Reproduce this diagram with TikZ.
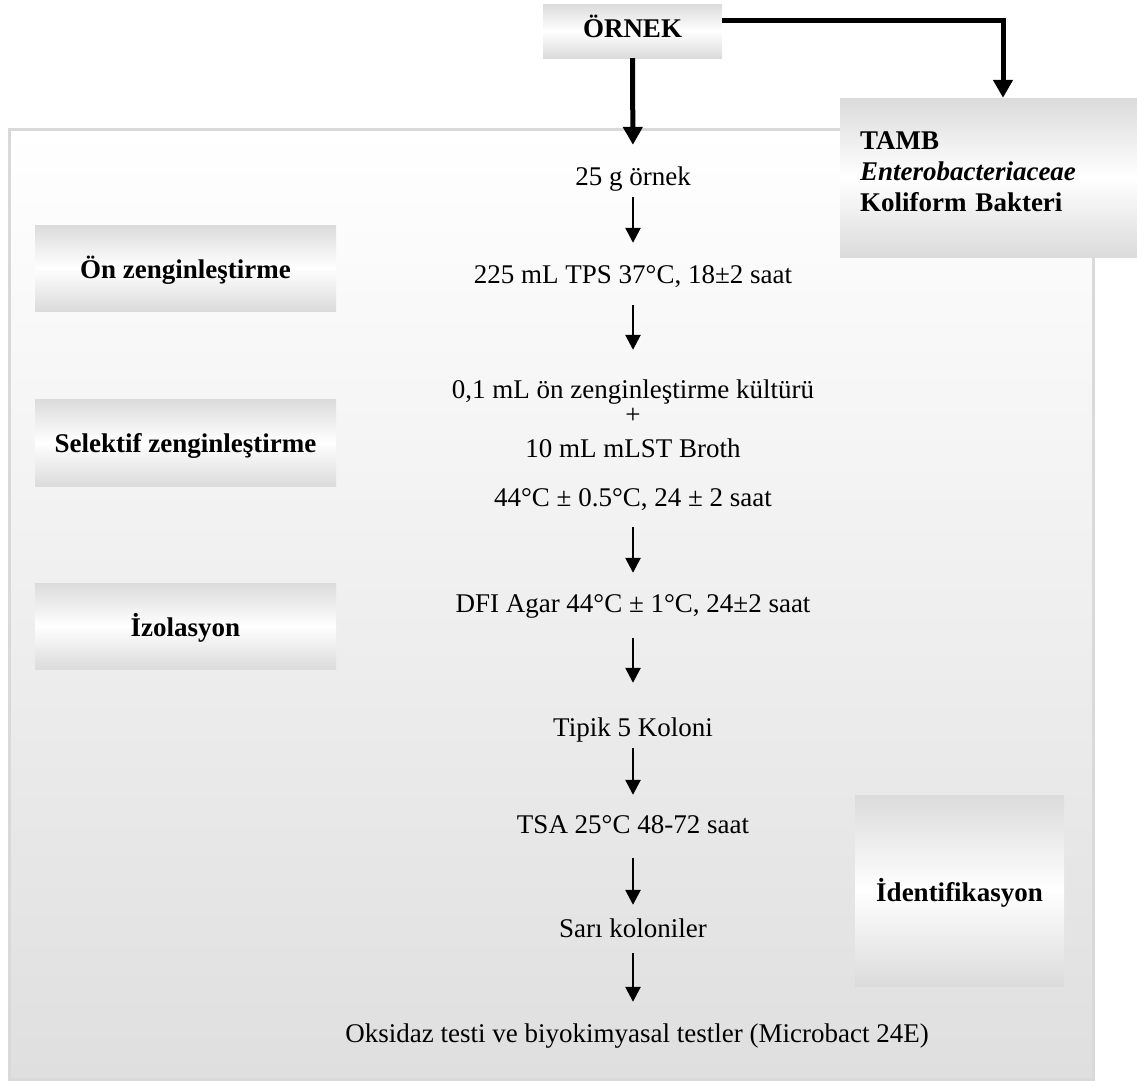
\documentclass[tikz,border=0pt]{standalone}
\usepackage{fontspec}
\setmainfont{Liberation Serif}
\usetikzlibrary{arrows.meta,calc}
\definecolor{boxgray}{HTML}{DBDBDB}
\definecolor{panelgray}{HTML}{DFDFDF}
\definecolor{panelline}{HTML}{D9D9D9}
\begin{document}
\begin{tikzpicture}[x=1pt,y=-1pt,
  txt/.style={font=\fontsize{27}{31}\selectfont, inner sep=0pt, text height=19pt, text depth=6pt, anchor=base},
  labelbox/.style={font=\fontsize{27}{31}\selectfont\bfseries, inner sep=0pt, top color=boxgray, bottom color=boxgray, middle color=white, draw=none},
  thinarrow/.style={line width=2.6pt, -{Triangle[length=15pt,width=15pt]}},
  thickarrow/.style={line width=5pt, -{Triangle[length=18pt,width=19pt]}},
]
\useasboundingbox (0,0) rectangle (1137,1080);
% background panel
\path[draw=panelline, line width=3pt, top color=white, bottom color=panelgray] (9,129) rectangle (1093,1079);

% boxes
\node[labelbox, minimum width=179pt, minimum height=54pt, text height=14pt, text depth=2pt] (ornek) at (632.5,31) {ÖRNEK};
\node[labelbox, minimum width=297pt, minimum height=159pt, text width=257pt, align=left, inner xsep=20pt] (tamb) at (988.5,177.5) {TAMB\\\textit{Enterobacteriaceae}\\Koliform Bakteri\rule[-11pt]{0pt}{11pt}};
\node[labelbox, minimum width=301pt, minimum height=86pt, text height=20pt, text depth=0pt] (onz) at (185.5,268) {Ön zenginleştirme};
\node[labelbox, minimum width=301pt, minimum height=87pt, text height=20pt, text depth=0pt] (sel) at (185.5,442.5) {Selektif zenginleştirme};
\node[labelbox, minimum width=301pt, minimum height=86pt, text height=20pt, text depth=0pt] (izo) at (185.5,626) {İzolasyon};
\node[labelbox, minimum width=209pt, minimum height=191pt, text height=22pt, text depth=0pt] (idf) at (959.5,890.5) {İdentifikasyon};

% centre column
\node[txt] (n1) at (633,185) {25 g örnek};
\node[txt] (n2) at (633,283) {225 mL TPS 37°C, 18±2 saat};
\node[txt] (n3) at (633,398) {0,1 mL ön zenginleştirme kültürü};
\node[txt] (n3p) at (633,423) {+};
\node[txt] (n4) at (633,457) {10 mL mLST Broth};
\node[txt] (n5) at (633,506) {44°C ± 0.5°C, 24 ± 2 saat};
\node[txt] (n6) at (633,612) {DFI Agar 44°C ± 1°C, 24±2 saat};
\node[txt] (n7) at (633,736) {Tipik 5 Koloni};
\node[txt] (n8) at (633,833) {TSA 25°C 48-72 saat};
\node[txt] (n9) at (633,937) {Sarı koloniler};
\node[txt] (n10) at (637,1042) {Oksidaz testi ve biyokimyasal testler (Microbact 24E)};

% connectors
\draw[thickarrow, shorten >=21pt] (ornek.south) -- (n1.north);
\draw[thickarrow] ([yshift=11pt]ornek.east) -| ([xshift=14.5pt]tamb.north);
\draw[thinarrow, shorten <=6pt, shorten >=21pt] (n1.south) -- (n2.north);
\draw[thinarrow, shorten <=16pt, shorten >=29pt] (n2.south) -- (n3.north);
\draw[thinarrow, shorten <=15pt, shorten >=20pt] (n5.south) -- (n6.north);
\draw[thinarrow, shorten <=20pt, shorten >=34pt] (n6.south) -- (n7.north);
\draw[thinarrow, shorten <=6pt, shorten >=19pt] (n7.south) -- (n8.north);
\draw[thinarrow, shorten <=19pt, shorten >=13pt] (n8.south) -- (n9.north);
\draw[thinarrow, shorten <=10pt, shorten >=21pt] (n9.south) -- (n9.south |- n10.north);
\end{tikzpicture}
\end{document}
